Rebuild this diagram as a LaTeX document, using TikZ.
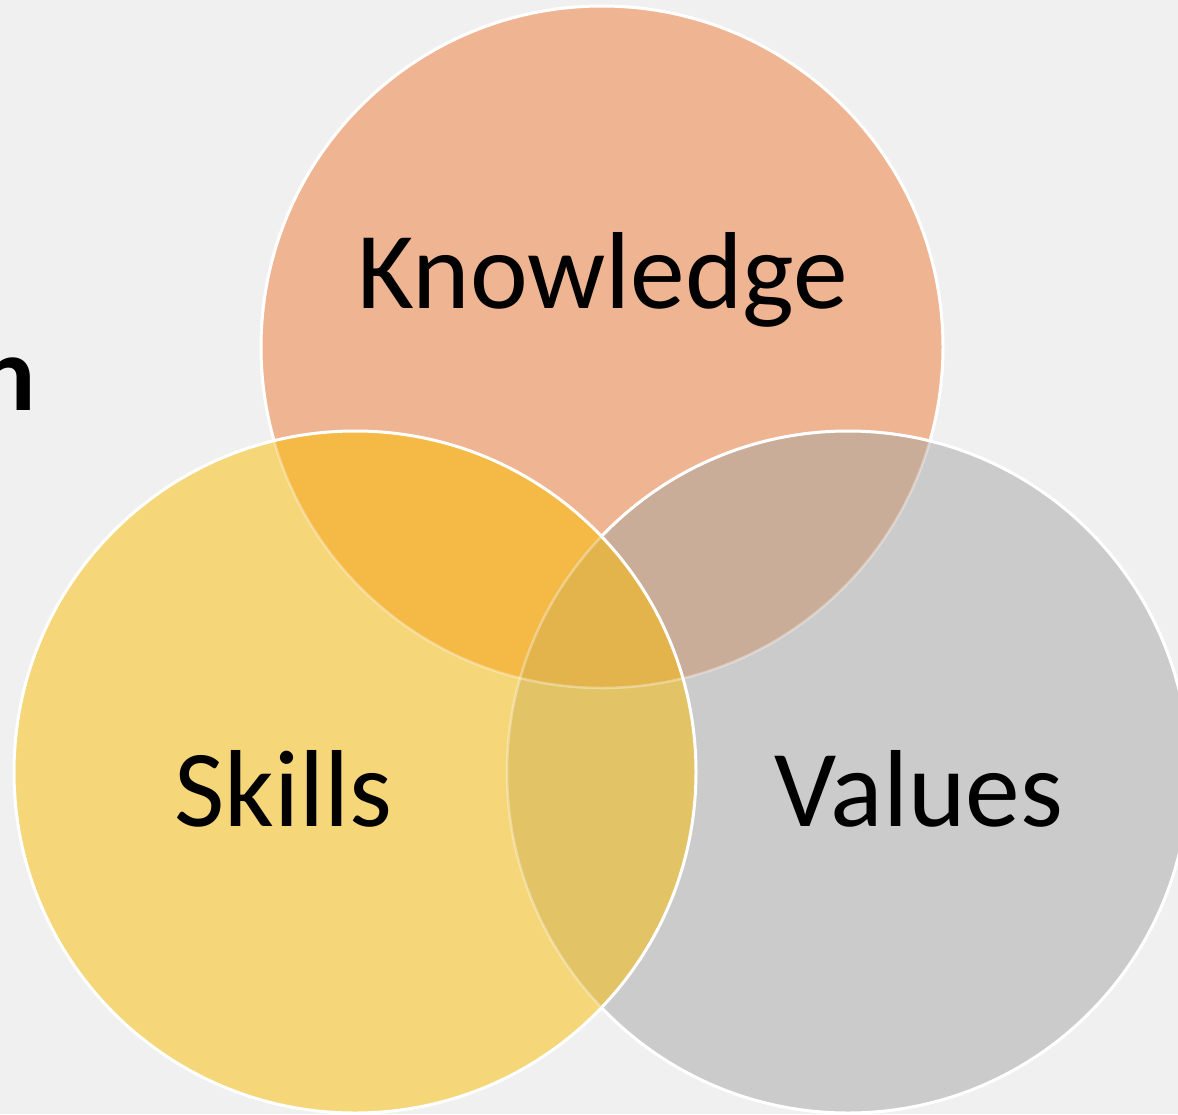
\documentclass[tikz,border=0pt]{standalone}
\usepackage{fontspec}
\setmainfont{Carlito}
\begin{document}
\begin{tikzpicture}[x=1pt,y=-1pt,
  lbl/.style={inner sep=0pt, anchor=base, text=black, font=\fontsize{109.5}{120}\selectfont},
  edge/.style={draw=white, line width=3pt},
  faint/.style={draw=white, draw opacity=0.35, line width=2.5pt}]
\definecolor{bg}{HTML}{F0F0F0}
\definecolor{konly}{HTML}{EFB592}
\definecolor{sonly}{HTML}{F5D678}
\definecolor{vonly}{HTML}{CBCBCB}
\definecolor{ks}{HTML}{F5B945}
\definecolor{kv}{HTML}{CAAD99}
\definecolor{sv}{HTML}{E2C466}
\definecolor{ksv}{HTML}{E3B44C}
\def\Kc{(602,347) circle[radius=341]}
\def\Sc{(355,772) circle[radius=341]}
\def\Vc{(848,772) circle[radius=341]}
\clip (0,0) rectangle (1178,1114);
\fill[bg] (0,0) rectangle (1178,1114);
% regions
\fill[konly] \Kc;
\fill[vonly] \Vc;
\fill[sonly] \Sc;
\begin{scope}\clip \Kc; \fill[ks] \Sc; \fill[kv] \Vc; \end{scope}
\begin{scope}\clip \Sc; \fill[sv] \Vc; \end{scope}
\begin{scope}\clip \Kc; \clip \Sc; \fill[ksv] \Vc; \end{scope}
% outlines
\draw[faint] \Kc;
\begin{scope}[even odd rule]
  \clip (-50,-50) rectangle (1300,1200) \Sc;
  \clip (-50,-50) rectangle (1300,1200) \Vc;
  \draw[edge] \Kc;
\end{scope}
\draw[faint] \Vc;
\begin{scope}[even odd rule]
  \clip (-50,-50) rectangle (1300,1200) \Sc;
  \draw[edge] \Vc;
\end{scope}
\draw[edge] \Sc;
% labels
\node[lbl] (knowledge) at (602.5,308) {Knowledge};
\node[lbl] (skills) at (283.5,826) {Skills};
\node[lbl] (values) at (919,826) {Values};
\node[inner sep=0pt, anchor=base east, font=\bfseries\fontsize{107}{120}\selectfont] (title) at (36,410) {n};
\end{tikzpicture}
\end{document}
